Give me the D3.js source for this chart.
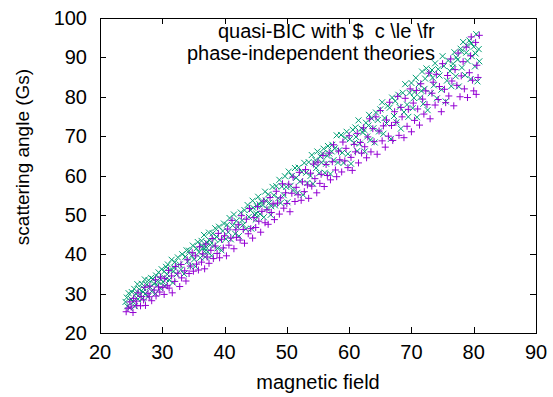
<!DOCTYPE html>
<html>
<head>
<meta charset="utf-8">
<script src="https://cdn.jsdelivr.net/npm/d3@7.9.0/dist/d3.min.js"></script>
<style>
  body { margin: 0; background: #fff; }
  svg { display: block; font-family: "Liberation Sans", Arial, sans-serif; }
  text { white-space: pre; }
</style>
</head>
<body>
<svg id="chart" width="553" height="397"></svg>
<script>
// axis ticks
const xTicks = [20, 30, 40, 50, 60, 70, 80, 90];
const yTicks = [20, 30, 40, 50, 60, 70, 80, 90, 100];

// key labels
const seriesNames = ['quasi-BIC with $  c \\le \\fr', 'phase-independent theories'];

// series 1 (purple +): [magnetic field, scattering angle]
const purplePts = [
  [24.2,25.4],[24.5,26.3],[24.8,27.9],[25.0,26.6],[25.3,25.2],[25.4,28.8],[25.8,28.1],[25.9,27.0],
  [26.1,30.2],[26.5,26.9],[26.6,29.3],[27.0,28.4],[27.2,31.6],[27.3,27.0],[27.7,30.1],[27.9,29.2],
  [28.0,31.9],[28.3,28.2],[28.7,30.9],[28.9,33.5],[29.0,29.4],[29.4,31.7],[29.6,30.4],[29.7,34.2],
  [30.1,31.6],[30.3,29.8],[30.4,33.8],[30.8,32.0],[31.0,35.9],[31.1,31.4],[31.5,34.5],[31.6,30.2],
  [32.0,33.1],[32.1,36.9],[32.5,35.2],[32.8,31.8],[33.0,37.4],[33.1,34.0],[33.6,35.8],[33.8,33.2],
  [34.0,38.6],[34.3,35.1],[34.5,37.0],[34.8,40.4],[35.0,35.7],[35.3,39.6],[35.5,37.5],[35.8,36.0],
  [36.0,41.9],[36.3,38.0],[36.5,40.1],[36.8,36.3],[37.0,42.6],[37.2,39.3],[37.5,37.7],[37.8,41.0],
  [38.0,44.0],[38.2,38.9],[38.5,42.1],[38.8,40.2],[39.0,45.3],[39.2,39.1],[39.5,43.8],[39.8,41.6],
  [40.0,44.7],[40.3,39.6],[40.5,46.4],[40.7,42.3],[41.0,44.1],[41.2,48.6],[41.5,41.4],[41.8,46.2],
  [41.9,44.3],[42.2,47.5],[42.5,43.6],[42.7,49.8],[43.0,46.3],[43.2,42.8],[43.5,48.9],[43.8,45.2],
  [44.0,51.6],[44.2,46.5],[44.5,44.1],[44.7,49.3],[45.0,46.8],[45.3,52.1],[45.5,48.4],[45.8,45.6],
  [46.0,50.9],[46.3,53.5],[46.5,48.0],[46.8,51.3],[47.0,47.6],[47.3,54.4],[47.5,50.6],[47.8,52.8],
  [48.0,48.8],[48.3,56.0],[48.5,53.0],[48.8,50.2],[49.0,54.3],[49.3,57.9],[49.5,51.7],[49.8,55.6],
  [50.0,52.9],[50.3,57.8],[50.5,50.8],[50.8,55.5],[51.0,59.6],[51.3,53.4],[51.5,57.0],[51.8,55.1],
  [52.0,60.8],[52.3,53.7],[52.5,58.4],[52.8,55.9],[53.0,61.5],[53.3,57.6],[53.5,54.2],[53.8,60.6],
  [54.0,57.3],[54.3,62.9],[54.5,59.2],[54.8,55.6],[55.0,63.4],[55.3,58.0],[55.5,60.3],[55.8,65.1],
  [56.0,57.2],[56.3,62.8],[56.5,60.0],[56.8,65.7],[57.0,58.9],[57.3,63.5],[57.5,67.8],[57.8,61.4],
  [58.0,59.7],[58.3,66.2],[58.5,64.0],[58.8,60.9],[59.0,68.5],[59.3,63.7],[59.5,66.9],[59.8,62.0],
  [60.0,70.1],[60.3,64.6],[60.5,61.3],[60.8,67.9],[61.0,66.0],[61.3,70.7],[61.5,63.2],[61.8,68.4],
  [62.0,65.7],[62.3,72.1],[62.5,67.3],[62.8,64.5],[63.0,69.8],[63.3,74.4],[63.5,66.0],[63.8,71.9],
  [64.0,68.6],[64.3,74.9],[64.5,65.4],[64.8,71.3],[65.0,76.5],[65.3,68.8],[65.5,72.6],[65.8,67.2],
  [66.0,74.1],[66.3,70.0],[66.5,78.6],[66.8,72.7],[67.0,68.9],[67.3,76.2],[67.5,73.5],[67.8,80.1],
  [68.0,70.2],[68.3,77.3],[68.5,74.9],[68.8,69.6],[69.0,79.6],[69.3,72.5],[69.5,76.8],[69.8,82.0],
  [70.0,71.1],[70.3,78.4],[70.5,74.0],[70.8,81.6],[71.0,76.9],[71.3,72.8],[71.5,83.3],[71.8,79.4],
  [72.0,75.6],[72.3,81.5],[72.5,78.0],[72.8,86.0],[73.0,74.4],[73.3,80.9],[73.5,83.7],[73.8,77.9],
  [74.0,85.7],[74.3,79.3],[74.5,82.6],[74.8,76.2],[75.0,88.4],[75.3,81.9],[75.5,78.5],[75.8,85.4],
  [76.0,80.2],[76.3,89.6],[76.5,84.0],[76.8,77.7],[77.0,86.9],[77.3,82.9],[77.5,91.1],[77.8,80.0],
  [78.0,85.3],[78.3,88.9],[78.5,82.0],[78.8,92.6],[79.0,79.8],[79.3,86.1],[79.5,90.4],[79.8,84.2],
  [80.0,81.5],[80.3,93.8],[80.5,88.0],[80.7,84.9],[80.9,95.6],[80.4,80.6],[79.6,95.2]
];

// series 2 (teal x)
const tealPts = [
  [24.1,27.9],[24.3,29.0],[24.4,26.8],[24.6,30.1],[24.8,26.4],[25.0,28.6],[25.1,30.4],[25.3,27.9],
  [25.5,31.2],[25.6,26.8],[25.8,29.9],[26.0,32.4],[26.1,28.6],[26.3,31.1],[26.4,29.8],[26.7,32.5],
  [26.8,28.7],[27.0,31.3],[27.2,33.6],[27.3,30.0],[27.5,32.3],[27.7,29.2],[27.8,33.4],[28.0,31.7],
  [28.2,34.0],[28.3,30.6],[28.5,33.7],[28.7,32.5],[28.9,30.0],[29.0,34.6],[29.2,32.1],[29.4,35.4],
  [29.6,33.9],[29.7,31.4],[29.9,36.2],[30.1,33.0],[30.3,35.6],[30.4,31.9],[30.6,36.8],[30.8,34.9],
  [30.9,37.4],[31.1,33.5],[31.3,36.0],[31.5,38.6],[31.7,32.8],[31.8,35.7],[32.0,38.0],[32.3,34.9],
  [32.5,39.2],[32.8,37.4],[33.0,36.1],[33.2,40.0],[33.5,35.0],[33.7,39.4],[33.9,41.0],[34.1,38.2],
  [34.3,40.9],[34.5,37.0],[34.7,39.6],[34.9,42.2],[35.1,38.7],[35.3,36.9],[35.5,41.5],[35.7,43.1],
  [35.9,40.5],[36.1,39.1],[36.3,43.4],[36.5,41.6],[36.7,44.9],[36.9,39.3],[37.1,43.0],[37.3,40.6],
  [37.5,45.5],[37.7,42.4],[37.9,39.6],[38.1,45.3],[38.3,42.2],[38.5,46.6],[38.7,44.5],[38.9,41.5],
  [39.1,47.0],[39.3,43.6],[39.5,41.0],[39.7,45.9],[39.9,47.8],[40.2,43.9],[40.4,47.5],[40.6,45.6],
  [40.8,49.2],[41.0,43.8],[41.3,47.3],[41.5,50.1],[41.7,45.2],[41.9,48.5],[42.1,46.9],[42.3,44.6],
  [42.6,50.6],[42.8,48.6],[43.0,47.5],[43.2,51.2],[43.4,46.4],[43.7,52.5],[43.9,49.5],[44.1,51.3],
  [44.3,46.5],[44.5,53.6],[44.8,50.1],[45.0,48.8],[45.2,52.2],[45.4,54.6],[45.7,50.2],[45.9,53.4],
  [46.1,52.5],[46.3,49.4],[46.5,55.9],[46.8,51.6],[47.0,55.2],[47.2,53.1],[47.4,50.0],[47.7,57.1],
  [47.9,55.0],[48.1,52.4],[48.3,57.3],[48.6,54.2],[48.8,58.9],[49.0,53.0],[49.2,57.2],[49.5,55.0],
  [49.7,59.8],[49.9,57.1],[50.1,53.2],[50.3,61.0],[50.6,57.4],[50.8,59.9],[51.0,56.2],[51.3,61.9],
  [51.5,59.4],[51.7,55.6],[51.9,62.0],[52.1,58.5],[52.4,60.9],[52.6,55.1],[52.8,63.2],[53.1,60.7],
  [53.3,58.1],[53.5,63.4],[53.8,59.9],[54.0,65.2],[54.2,57.9],[54.5,63.1],[54.7,61.9],[54.9,66.1],
  [55.2,60.6],[55.4,64.8],[55.6,63.3],[55.9,66.8],[56.1,60.7],[56.3,63.0],[56.6,67.5],[56.8,65.6],
  [57.0,60.4],[57.3,67.8],[57.5,63.9],[57.7,66.9],[58.0,70.2],[58.2,63.3],[58.4,66.4],[58.7,70.3],
  [58.9,65.8],[59.1,63.2],[59.4,69.5],[59.6,71.1],[59.8,65.5],[60.1,69.2],[60.3,63.0],[60.6,71.6],
  [60.8,68.3],[61.0,72.2],[61.3,66.2],[61.5,74.0],[61.7,68.1],[62.0,71.9],[62.2,70.9],[62.5,66.1],
  [62.7,73.4],[62.9,69.9],[63.2,75.4],[63.4,69.0],[63.6,74.5],[63.9,72.0],[64.1,68.4],[64.3,76.0],
  [64.6,74.1],[64.8,71.2],[65.0,76.8],[65.3,78.6],[65.5,70.6],[65.7,74.6],[66.0,73.2],[66.2,77.7],
  [66.5,77.2],[66.7,69.3],[66.9,79.8],[67.2,75.1],[67.4,78.9],[67.6,73.5],[67.9,80.5],[68.1,77.4],
  [68.3,71.9],[68.6,81.0],[68.8,76.1],[69.0,83.2],[69.3,78.0],[69.5,74.9],[69.7,81.0],[70.0,83.5],
  [70.2,77.1],[70.5,81.2],[70.7,84.8],[70.9,74.8],[71.2,83.2],[71.4,79.8],[71.7,86.4],[71.9,78.2],
  [72.1,82.0],[72.4,87.2],[72.6,76.6],[72.9,85.9],[73.1,80.9],[73.4,84.8],[73.6,82.9],[73.8,88.5],
  [74.1,79.6],[74.3,87.0],[74.5,85.4],[74.8,81.8],[75.0,90.3],[75.2,87.8],[75.5,78.8],[75.7,84.1],
  [75.9,89.2],[76.2,86.5],[76.4,82.7],[76.7,88.4],[76.9,91.3],[77.1,85.2],[77.4,89.4],[77.6,82.6],
  [77.9,92.2],[78.1,87.4],[78.3,93.9],[78.6,85.5],[78.8,91.2],[79.0,89.1],[79.3,94.3],[79.5,84.5],
  [79.7,90.3],[80.0,92.7],[80.2,87.7],[80.4,95.9],[80.6,83.9],[80.8,92.1],[80.9,89.0],
  [36.4,42.2],[37.0,41.8],[37.6,43.5],[38.4,43.9],[36.8,40.7],[44.6,51.8],[45.6,52.7],[46.6,53.6],
  [47.5,52.2],[45.1,50.3],[55.7,65.5],[56.5,65.0],[57.2,66.1],[54.6,63.9],[61.1,69.8],[62.4,71.6],
  [63.1,72.7],[77.2,90.0],[78.0,91.5],[78.9,93.0],[79.6,93.6],[76.6,87.4],[80.3,91.0],[29.4,33.0],
  [30.6,33.7],[31.9,36.6],[26.9,30.4],[70.4,79.7],[71.6,81.5],[72.2,84.6],[73.3,86.8]
];

const purple = '#9400d3';
const teal = '#009e73';

const svg = d3.select('#chart');
const W = 553, H = 397;
const margin = { left: 100, right: 17, top: 18, bottom: 64 };

const x = d3.scaleLinear().domain([20, 90]).range([margin.left, W - margin.right]);
const y = d3.scaleLinear().domain([20, 100]).range([H - margin.bottom, margin.top]);

const tickLen = 6;
const fs = 20;

// ticks on all four sides, pointing in
const g = svg.append('g').attr('stroke', '#000').attr('stroke-width', 1);
xTicks.forEach(t => {
  const px = Math.round(x(t)) + 0.5;
  g.append('line').attr('x1', px).attr('x2', px).attr('y1', y(20)).attr('y2', y(20) - tickLen);
  g.append('line').attr('x1', px).attr('x2', px).attr('y1', y(100)).attr('y2', y(100) + tickLen);
});
yTicks.forEach(t => {
  const py = Math.round(y(t)) + 0.5;
  g.append('line').attr('x1', x(20)).attr('x2', x(20) + tickLen).attr('y1', py).attr('y2', py);
  g.append('line').attr('x1', x(90)).attr('x2', x(90) - tickLen).attr('y1', py).attr('y2', py);
});

// tick labels
svg.append('g').selectAll('text').data(xTicks).join('text')
  .attr('x', d => x(d)).attr('y', 359)
  .attr('text-anchor', 'middle').attr('font-size', fs)
  .text(d => d);
svg.append('g').selectAll('text').data(yTicks).join('text')
  .attr('x', 87).attr('y', d => y(d) + 7)
  .attr('text-anchor', 'end').attr('font-size', fs)
  .text(d => d);

// axis titles
svg.append('text').attr('x', (x(20) + x(90)) / 2).attr('y', 389)
  .attr('text-anchor', 'middle').attr('font-size', fs).text('magnetic field');
svg.append('text').attr('transform', 'translate(29,157) rotate(-90)')
  .attr('text-anchor', 'middle').attr('font-size', 19).text('scattering angle (Gs)');

// markers
function drawPlus(pts, color) {
  svg.append('g').selectAll('path').data(pts).join('path')
    .attr('d', d => {
      const cx = x(d[0]), cy = y(d[1]), r = 3.5;
      return `M${cx - r},${cy}H${cx + r}M${cx},${cy - r}V${cy + r}`;
    })
    .attr('stroke', color).attr('stroke-width', 1).attr('fill', 'none');
}
function drawCross(pts, color) {
  svg.append('g').selectAll('path').data(pts).join('path')
    .attr('d', d => {
      const cx = x(d[0]), cy = y(d[1]), r = 3;
      return `M${cx - r},${cy - r}L${cx + r},${cy + r}M${cx - r},${cy + r}L${cx + r},${cy - r}`;
    })
    .attr('stroke', color).attr('stroke-width', 1).attr('fill', 'none');
}
drawCross(tealPts, teal);
drawPlus(purplePts, purple);

// frame
svg.append('rect')
  .attr('x', x(20) + 0.5).attr('y', y(100) + 0.5)
  .attr('width', x(90) - x(20)).attr('height', y(20) - y(100))
  .attr('fill', 'none').attr('stroke', '#000').attr('stroke-width', 1);

// key text
svg.append('text').attr('x', 218).attr('y', 38).attr('font-size', fs).text(seriesNames[0]);
svg.append('text').attr('x', 187).attr('y', 60).attr('font-size', fs).text(seriesNames[1]);
</script>
</body>
</html>
